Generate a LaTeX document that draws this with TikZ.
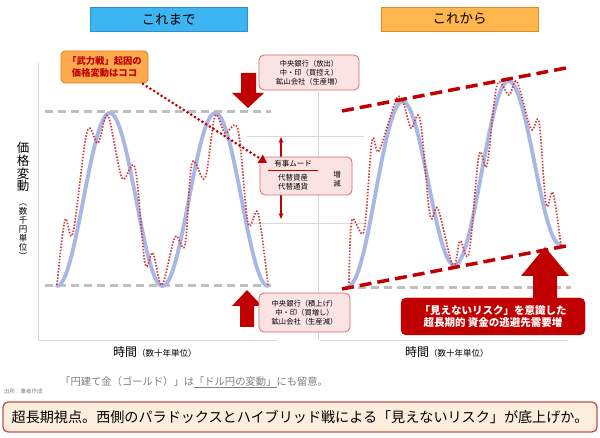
\documentclass[tikz,border=0pt]{standalone}
\usepackage{fontspec}
\setmainfont{Noto Sans CJK JP}
\usetikzlibrary{arrows.meta}
\definecolor{dred}{HTML}{C00000}
\definecolor{dotred}{HTML}{D43A3A}
\definecolor{curveblue}{HTML}{A9B7E6}
\definecolor{dashgray}{HTML}{BFBFBF}
\definecolor{axisgray}{HTML}{D9D9D9}
\definecolor{skyblue}{HTML}{3DB5F2}
\definecolor{skyborder}{HTML}{2E8FC8}
\definecolor{orangetitle}{HTML}{FFB74D}
\definecolor{orangeborder}{HTML}{E08A2A}
\definecolor{pinkfill}{HTML}{FCE3E3}
\definecolor{pinkdraw}{HTML}{D86A6A}
\definecolor{calloutfill}{HTML}{FCAA4C}
\definecolor{calloutdraw}{HTML}{E07F1E}
\definecolor{peach}{HTML}{FDEDDC}
\definecolor{boxdraw}{HTML}{C0504D}
\definecolor{notegray}{HTML}{7F7F7F}
\tikzset{
  titlebox/.style={minimum width=157pt, minimum height=24pt, inner sep=0pt, line width=0.8pt, font=\fontsize{13.5}{15}\selectfont},
  pinkbox/.style={draw=pinkdraw, fill=pinkfill, rounded corners=5pt, line width=0.8pt, align=center, inner sep=0pt, font=\fontsize{7.3}{9}\selectfont},
  axisline/.style={draw=axisgray, line width=0.8pt},
  gdash/.style={draw=dashgray, line width=3pt, dash pattern=on 8pt off 5pt},
  rdash/.style={draw=dred, line width=3.5pt, dash pattern=on 12pt off 6pt},
  bluecurve/.style={draw=curveblue, line width=3.8pt, line cap=round},
  reddots/.style={draw=dotred, line width=1.7pt, dash pattern=on 1.5pt off 1.6pt},
  blockarrow/.style={fill=dred, draw=none},
  xlab/.style={font=\fontsize{12}{14}\selectfont, inner sep=0pt},
}
\begin{document}
\begin{tikzpicture}[x=1pt,y=-1pt]
\useasboundingbox (0,0) rectangle (600,438);
\fill[white] (0,0) rectangle (600,438);

% title boxes
\node[titlebox, draw=skyborder, fill=skyblue] (t1) at (168.5,19) {これまで};
\node[titlebox, draw=orangeborder, fill=orangetitle] (t2) at (459.5,19) {これから};

% axes
\draw[axisline] (38,62) -- (38,340) -- (278,340);
\draw[axisline] (318,92) -- (318,340);
\draw[axisline] (320,340) -- (568,340);
\draw[axisline] (247,136) -- (364,136);
\draw[axisline] (247,223) -- (364,223);

% gray dashed levels
\draw[gdash] (45,112) -- (271,112);
\draw[gdash] (45,286) -- (271,286);
\draw[gdash] (345,288) -- (571,288);

% left curves
\draw[bluecurve] plot[domain=57:268, samples=120] (\x, {199.5 + 86.5*cos(3.41232*(\x-57))});
\draw[reddots] plot[smooth, tension=0.55] coordinates {
 (57,285) (65,220) (73,233) (87,132) (98,143) (108,116) (122,178) (135,168) (145,263) (153,253) (162,285)
 (175,237) (185,245) (192,163) (205,178) (215,116) (225,133) (238,130) (248,223) (258,213) (268,285)};

% right curves
\draw[bluecurve] plot[domain=349:561, samples=120] (\x, {200 - (\x-342)*0.1928 + 87*cos(3.39623*(\x-349))});
\draw[reddots] plot[smooth, tension=0.55] coordinates {
 (349,283) (352,220) (364,231) (372,141) (379,151) (396,100) (403,102) (411,128) (420,119) (430,215) (438,209) (453,266)
 (460,241) (469,253) (479,155) (487,165) (497,85) (509,95) (517,82) (531,129) (539,122) (546,204) (553,193) (561,246)};

% trend lines
\draw[rdash] (342,111) -- (566,68);
\draw[rdash] (342,289) -- (566,246);

% block arrows
\fill[blockarrow] (241,73) -- (256,73) -- (256,93) -- (264,93) -- (248,108) -- (232,93) -- (241,93) -- cycle;
\fill[blockarrow] (240,327) -- (254,327) -- (254,306) -- (262,306) -- (247,290) -- (232,306) -- (240,306) -- cycle;
\fill[blockarrow] (533,300) -- (557,300) -- (557,276) -- (569,276) -- (545,247) -- (521,276) -- (533,276) -- cycle;

% double arrow behind middle box
\coordinate (da1) at (281,137);
\coordinate (da2) at (281,219);
\draw[dred, line width=1.1pt, {Stealth[length=6pt,width=5pt]}-{Stealth[length=6pt,width=5pt]}] (da1) -- (da2);

% pink boxes
\node[pinkbox, minimum width=100pt, minimum height=35pt] (topbox) at (309,72.5) {中央銀行（放出）\\中・印（買控え）\\鉱山会社（生産増）};
\node[pinkbox, minimum width=92pt, minimum height=38pt] (midbox) at (306,176) {};
\node[font=\fontsize{7.5}{9}\selectfont, inner sep=0pt] (mid1) at (293,164) {有事ムード};
\draw[dred, line width=1pt] (268,171) -- (318,171);
\node[font=\fontsize{7.5}{9}\selectfont, inner sep=0pt, align=center] (mid2) at (293,182) {代替資産\\代替通貨};
\node[font=\fontsize{7.5}{9.5}\selectfont, inner sep=0pt, align=center] (mid3) at (337,179) {増\\減};
\node[pinkbox, minimum width=91pt, minimum height=39pt] (botbox) at (304.5,312.5) {中央銀行（積上げ）\\中・印（買増し）\\鉱山会社（生産減）};

% red box right
\node[fill=dred, draw=dred, rounded corners=5pt, minimum width=184pt, minimum height=37pt, inner sep=0pt, align=center, text=white, font=\bfseries\fontsize{10.5}{12.5}\selectfont] (riskbox) at (493,316.5) {「見えないリスク」を意識した\\超長期的 資金の逃避先需要増};

% callout
\node[fill=calloutfill, draw=calloutdraw, rounded corners=4pt, line width=0.8pt, minimum width=87pt, minimum height=32pt, inner sep=0pt, align=center, text=dred, font=\bfseries\fontsize{9.3}{11.5}\selectfont] (callout) at (104.5,67) {「武力戦」起因の\\価格変動はココ};
\coordinate (cstart) at (143,84);
\coordinate (cend) at (267,163);
\draw[dred, line width=3pt, line cap=round, dash pattern=on 0pt off 4.4pt, -{Triangle[length=8pt,width=9pt]}] (cstart) -- (cend);

% y axis label
\node[font=\fontsize{12.5}{12.8}\selectfont, inner sep=0pt, align=center] (ylab1) at (23,167) {価\\格\\変\\動};
\node[font=\fontsize{8.5}{9}\selectfont, inner sep=0pt, align=center] (ylab2) at (23,232) {︵\\数\\千\\円\\単\\位\\︶};

% x axis labels
\node[xlab, anchor=base west] (xl1) at (113,357) {時間\fontsize{8.5}{10}\selectfont（数十年単位）};
\node[xlab, anchor=base west] (xl2) at (405,357) {時間\fontsize{8.5}{10}\selectfont（数十年単位）};

% notes
\node[text=notegray, font=\fontsize{10.3}{12}\selectfont, inner sep=0pt, anchor=base west] (note) at (60,385) {「円建て金（ゴールド）」は\underline{「ドル円の変動」}にも留意。};
\node[text=notegray, font=\fontsize{5.5}{6}\selectfont, inner sep=0pt, anchor=base west] (src) at (4,394) {出所：筆者作成};

% bottom box
\node[fill=peach, draw=boxdraw, rounded corners=5pt, line width=1.3pt, minimum width=594pt, minimum height=30pt, inner sep=0pt, font=\fontsize{14.1}{16}\selectfont] (summary) at (300,417) {超長期視点。西側のパラドックスとハイブリッド戦による「見えないリスク」が底上げか。};
\end{tikzpicture}
\end{document}
